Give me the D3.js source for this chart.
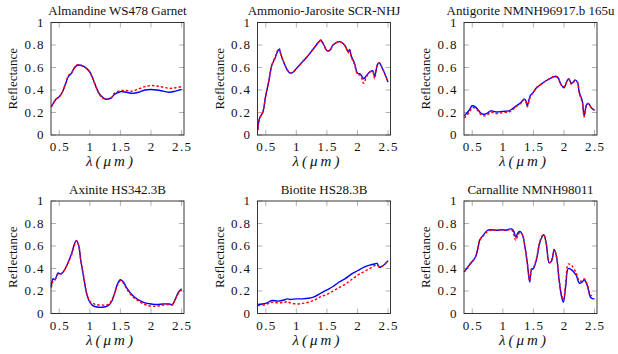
<!DOCTYPE html>
<html>
<head>
<meta charset="utf-8">
<script src="https://cdn.jsdelivr.net/npm/d3@7"></script>
<style>
  html, body { margin: 0; padding: 0; background: #fff; }
</style>
</head>
<body>
<div id="chart"></div>
<script>
// reflectance spectra, blue = measured, red = estimated
const titles = ['Almandine WS478 Garnet', 'Ammonio-Jarosite SCR-NHJ', 'Antigorite NMNH96917.b 165u',
  'Axinite HS342.3B', 'Biotite HS28.3B', 'Carnallite NMNH98011'];
const xTicks = [0.5, 1, 1.5, 2, 2.5];
const yTicks = [0, 0.2, 0.4, 0.6, 0.8, 1];

const almandineX = [0.37, 0.4, 0.45, 0.5, 0.55, 0.6, 0.65, 0.7, 0.75, 0.8, 0.85, 0.9, 0.95, 1.0, 1.05, 1.1, 1.15, 1.2, 1.25, 1.3, 1.35, 1.4, 1.5, 1.6, 1.7, 1.8, 1.9, 2.0, 2.1, 2.2, 2.3, 2.4, 2.5];
const almandineBlue = [0.25, 0.28, 0.32, 0.34, 0.38, 0.45, 0.52, 0.55, 0.60, 0.62, 0.62, 0.61, 0.59, 0.56, 0.50, 0.43, 0.37, 0.34, 0.32, 0.32, 0.33, 0.36, 0.385, 0.38, 0.37, 0.38, 0.40, 0.405, 0.40, 0.39, 0.38, 0.39, 0.405];
const almandineRed = [0.25, 0.28, 0.32, 0.34, 0.38, 0.45, 0.53, 0.55, 0.60, 0.625, 0.62, 0.61, 0.59, 0.56, 0.50, 0.43, 0.37, 0.33, 0.32, 0.32, 0.33, 0.37, 0.395, 0.395, 0.39, 0.41, 0.43, 0.44, 0.435, 0.425, 0.415, 0.42, 0.43];

const jarositeX = [0.37, 0.4, 0.45, 0.5, 0.55, 0.6, 0.65, 0.7, 0.72, 0.75, 0.8, 0.85, 0.9, 0.95, 1.0, 1.1, 1.2, 1.3, 1.4, 1.45, 1.5, 1.55, 1.6, 1.7, 1.75, 1.8, 1.85, 1.87, 1.9, 1.95, 2.0, 2.05, 2.1, 2.15, 2.2, 2.25, 2.28, 2.33, 2.36, 2.4, 2.45, 2.5];
const jarositeBlue = [0.05, 0.15, 0.2, 0.35, 0.48, 0.62, 0.68, 0.75, 0.76, 0.71, 0.64, 0.58, 0.55, 0.56, 0.59, 0.65, 0.71, 0.78, 0.84, 0.80, 0.75, 0.755, 0.80, 0.83, 0.82, 0.79, 0.74, 0.76, 0.70, 0.64, 0.55, 0.54, 0.50, 0.53, 0.56, 0.57, 0.52, 0.63, 0.64, 0.60, 0.54, 0.47];
const jarositeRed = [0.04, 0.15, 0.2, 0.35, 0.48, 0.62, 0.69, 0.76, 0.77, 0.71, 0.64, 0.58, 0.55, 0.56, 0.59, 0.65, 0.71, 0.78, 0.845, 0.80, 0.75, 0.75, 0.80, 0.83, 0.82, 0.79, 0.73, 0.76, 0.69, 0.63, 0.54, 0.53, 0.46, 0.52, 0.56, 0.56, 0.50, 0.63, 0.64, 0.60, 0.54, 0.47];

const antigoriteX = [0.37, 0.45, 0.5, 0.55, 0.6, 0.65, 0.7, 0.75, 0.8, 0.85, 0.9, 1.0, 1.1, 1.15, 1.2, 1.25, 1.3, 1.35, 1.38, 1.4, 1.45, 1.5, 1.55, 1.6, 1.7, 1.8, 1.85, 1.9, 1.95, 2.0, 2.05, 2.08, 2.12, 2.15, 2.18, 2.22, 2.25, 2.3, 2.33, 2.37, 2.4, 2.45, 2.5];
const antigoriteBlue = [0.17, 0.22, 0.26, 0.25, 0.22, 0.19, 0.185, 0.195, 0.215, 0.21, 0.205, 0.21, 0.215, 0.23, 0.25, 0.27, 0.29, 0.32, 0.30, 0.26, 0.35, 0.38, 0.42, 0.44, 0.48, 0.51, 0.52, 0.51, 0.45, 0.42, 0.48, 0.50, 0.46, 0.47, 0.49, 0.47, 0.38, 0.30, 0.17, 0.27, 0.28, 0.24, 0.22];
const antigoriteRed = [0.15, 0.20, 0.24, 0.24, 0.21, 0.18, 0.17, 0.18, 0.20, 0.20, 0.19, 0.20, 0.205, 0.22, 0.245, 0.265, 0.285, 0.315, 0.29, 0.25, 0.34, 0.38, 0.42, 0.44, 0.48, 0.51, 0.525, 0.515, 0.45, 0.43, 0.48, 0.495, 0.45, 0.465, 0.48, 0.47, 0.37, 0.29, 0.16, 0.27, 0.28, 0.24, 0.22];

const axiniteX = [0.37, 0.4, 0.43, 0.48, 0.52, 0.55, 0.6, 0.65, 0.7, 0.75, 0.78, 0.82, 0.85, 0.9, 0.95, 1.0, 1.05, 1.1, 1.2, 1.3, 1.35, 1.4, 1.45, 1.5, 1.55, 1.6, 1.7, 1.8, 1.9, 2.0, 2.1, 2.2, 2.3, 2.35, 2.4, 2.45, 2.5];
const axiniteBlue = [0.24, 0.31, 0.30, 0.36, 0.35, 0.36, 0.40, 0.46, 0.53, 0.62, 0.65, 0.60, 0.48, 0.32, 0.17, 0.10, 0.07, 0.06, 0.055, 0.07, 0.10, 0.17, 0.26, 0.30, 0.28, 0.23, 0.16, 0.12, 0.095, 0.085, 0.08, 0.085, 0.085, 0.08, 0.13, 0.19, 0.22];
const axiniteRed = [0.23, 0.29, 0.30, 0.35, 0.35, 0.36, 0.40, 0.46, 0.52, 0.61, 0.645, 0.60, 0.48, 0.33, 0.18, 0.11, 0.09, 0.08, 0.075, 0.08, 0.11, 0.17, 0.25, 0.29, 0.27, 0.22, 0.15, 0.11, 0.08, 0.065, 0.065, 0.075, 0.08, 0.075, 0.13, 0.18, 0.21];

const biotiteX = [0.37, 0.5, 0.6, 0.7, 0.8, 0.85, 0.9, 1.0, 1.1, 1.2, 1.3, 1.4, 1.5, 1.6, 1.7, 1.8, 1.9, 2.0, 2.1, 2.2, 2.28, 2.32, 2.36, 2.4, 2.45, 2.5];
const biotiteBlue = [0.08, 0.09, 0.115, 0.11, 0.12, 0.13, 0.125, 0.13, 0.13, 0.135, 0.15, 0.18, 0.21, 0.24, 0.28, 0.31, 0.35, 0.38, 0.41, 0.43, 0.44, 0.445, 0.41, 0.42, 0.44, 0.47];
const biotiteRed = [0.07, 0.08, 0.10, 0.095, 0.10, 0.105, 0.095, 0.085, 0.09, 0.10, 0.12, 0.15, 0.17, 0.20, 0.23, 0.26, 0.30, 0.34, 0.37, 0.40, 0.425, 0.43, 0.415, 0.42, 0.44, 0.47];

const carnalliteX = [0.37, 0.45, 0.55, 0.6, 0.62, 0.7, 0.75, 0.8, 0.9, 1.0, 1.05, 1.1, 1.15, 1.18, 1.21, 1.25, 1.28, 1.32, 1.36, 1.4, 1.44, 1.47, 1.5, 1.55, 1.6, 1.64, 1.67, 1.71, 1.76, 1.8, 1.84, 1.88, 1.92, 1.96, 1.99, 2.03, 2.07, 2.12, 2.2, 2.25, 2.3, 2.33, 2.38, 2.44, 2.5];
const carnalliteBlue = [0.37, 0.43, 0.50, 0.60, 0.65, 0.71, 0.74, 0.745, 0.74, 0.745, 0.74, 0.75, 0.75, 0.73, 0.68, 0.72, 0.73, 0.70, 0.60, 0.45, 0.28, 0.39, 0.40, 0.48, 0.62, 0.68, 0.70, 0.62, 0.45, 0.47, 0.57, 0.50, 0.30, 0.15, 0.10, 0.25, 0.40, 0.39, 0.34, 0.27, 0.28, 0.30, 0.25, 0.14, 0.13];
const carnalliteRed = [0.37, 0.43, 0.50, 0.60, 0.65, 0.70, 0.73, 0.74, 0.74, 0.745, 0.74, 0.745, 0.74, 0.70, 0.65, 0.70, 0.72, 0.70, 0.60, 0.45, 0.29, 0.40, 0.41, 0.49, 0.63, 0.69, 0.70, 0.62, 0.45, 0.48, 0.57, 0.50, 0.30, 0.17, 0.12, 0.28, 0.44, 0.43, 0.36, 0.29, 0.29, 0.31, 0.26, 0.16, 0.17];

const spectra = [
  [almandineX, almandineBlue, almandineRed],
  [jarositeX, jarositeBlue, jarositeRed],
  [antigoriteX, antigoriteBlue, antigoriteRed],
  [axiniteX, axiniteBlue, axiniteRed],
  [biotiteX, biotiteBlue, biotiteRed],
  [carnalliteX, carnalliteBlue, carnalliteRed]
];

const width = 618, height = 354;
const plotW = 133;
const colLeft = [51, 257.5, 464];
const rowTop = [22.5, 201];
const plotH = 112.5;
const tickLen = 5;
const serif = 'Liberation Serif';

const svg = d3.select('#chart').append('svg')
  .attr('width', width)
  .attr('height', height);

const x = d3.scaleLinear().domain([0.365, 2.54]).range([0, plotW]);
const y = d3.scaleLinear().domain([0, 1]).range([plotH, 0]);

const line = d3.line()
  .x(d => x(d[0]))
  .y(d => y(d[1]))
  .curve(d3.curveCatmullRom.alpha(0.5));

spectra.forEach((s, i) => {
  const col = i % 3, row = Math.floor(i / 3);
  const g = svg.append('g')
    .attr('transform', `translate(${colLeft[col]}, ${rowTop[row]})`);

  // gray inner ticks on all four sides
  const ticks = g.append('g').attr('stroke', '#a8a8a8').attr('stroke-width', 0.9);
  xTicks.forEach(t => {
    ticks.append('line').attr('x1', x(t)).attr('x2', x(t)).attr('y1', plotH).attr('y2', plotH - tickLen);
    ticks.append('line').attr('x1', x(t)).attr('x2', x(t)).attr('y1', 0).attr('y2', tickLen);
  });
  yTicks.forEach(t => {
    ticks.append('line').attr('x1', 0).attr('x2', tickLen).attr('y1', y(t)).attr('y2', y(t));
    ticks.append('line').attr('x1', plotW).attr('x2', plotW - tickLen).attr('y1', y(t)).attr('y2', y(t));
  });

  const blue = s[0].map((v, k) => [v, s[1][k]]);
  const red = s[0].map((v, k) => [v, s[2][k]]);

  g.append('path')
    .datum(blue)
    .attr('d', line)
    .attr('fill', 'none')
    .attr('stroke', '#0000ff')
    .attr('stroke-width', 1.4);

  g.append('path')
    .datum(red)
    .attr('d', line)
    .attr('fill', 'none')
    .attr('stroke', '#ff0000')
    .attr('stroke-width', 1.4)
    .attr('stroke-dasharray', '2.5,2');

  g.append('rect')
    .attr('width', plotW)
    .attr('height', plotH)
    .attr('fill', 'none')
    .attr('stroke', '#222')
    .attr('stroke-width', 0.9);

  g.selectAll('.xtl').data(xTicks).enter().append('text')
    .attr('class', 'xtl')
    .attr('x', d => x(d) + 0.7)
    .attr('y', plotH + 16)
    .attr('text-anchor', 'middle')
    .style('font-family', serif)
    .style('font-size', '13px')
    .style('letter-spacing', '1.4px')
    .style('fill', '#111')
    .text(d => d3.format('')(d));

  g.selectAll('.ytl').data(yTicks).enter().append('text')
    .attr('class', 'ytl')
    .attr('x', -6)
    .attr('y', d => y(d) + 4.3)
    .attr('text-anchor', 'end')
    .style('font-family', serif)
    .style('font-size', '13px')
    .style('letter-spacing', '1.4px')
    .style('fill', '#111')
    .text(d => d3.format('')(d));

  g.append('text')
    .attr('x', plotW / 2)
    .attr('y', -7.5)
    .attr('text-anchor', 'middle')
    .style('font-family', serif)
    .style('font-size', '13px')
    .style('fill', '#111')
    .text(titles[i]);

  g.append('text')
    .attr('transform', `translate(-34, ${plotH / 2}) rotate(-90)`)
    .attr('text-anchor', 'middle')
    .style('font-family', serif)
    .style('font-size', '13px')
    .style('fill', '#111')
    .text('Reflectance');

  g.append('text')
    .attr('x', 60)
    .attr('y', plotH + 31)
    .attr('text-anchor', 'middle')
    .style('font-family', serif)
    .style('font-size', '15px')
    .style('font-style', 'italic')
    .style('letter-spacing', '3px')
    .style('fill', '#111')
    .text('λ(μm)');
});
</script>
</body>
</html>
